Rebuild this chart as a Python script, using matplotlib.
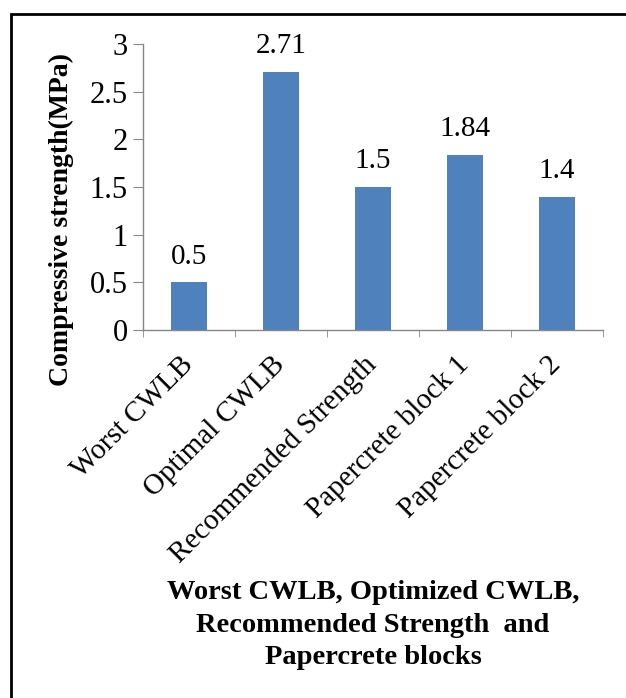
import matplotlib
matplotlib.use("Agg")
import matplotlib.pyplot as plt
from matplotlib.patches import Rectangle
from matplotlib.ticker import FixedLocator, FuncFormatter

categories = ["Worst CWLB", "Optimal CWLB", "Recommended Strength",
              "Papercrete block 1", "Papercrete block 2"]
values = [0.5, 2.71, 1.5, 1.84, 1.4]
value_labels = ["0.5", "2.71", "1.5", "1.84", "1.4"]
yticks = [0, 0.5, 1, 1.5, 2, 2.5, 3]

plt.rcParams['font.family'] = ['Liberation Serif', 'DejaVu Serif']

W, H = 626, 698
fig = plt.figure(figsize=(W/100, H/100), dpi=100)
ax = fig.add_axes([143/W, 1-330/H, (603-143)/W, (330-44)/H])

x = list(range(len(categories)))
ax.bar(x, values, width=0.4, color="#4F81BD")
ax.set_xlim(-0.5, len(categories)-0.5)
ax.set_ylim(0, 3)

gray = "#868686"
for s in ["top", "right"]:
    ax.spines[s].set_visible(False)
for s in ["left", "bottom"]:
    ax.spines[s].set_color(gray)
    ax.spines[s].set_linewidth(1.0)

ax.set_yticks(yticks)
ax.yaxis.set_major_formatter(FuncFormatter(lambda v, p: "%g" % v))
ax.tick_params(axis='y', direction='out', length=7, color=gray, labelsize=22, pad=4)

ax.set_xticks(x)
ax.set_xticklabels(categories, rotation=45, ha='right', va='center',
                   rotation_mode='anchor', fontsize=21)
ax.tick_params(axis='x', which='major', length=0, pad=22)
ax.xaxis.set_minor_locator(FixedLocator([i - 0.5 for i in range(len(categories)+1)]))
ax.tick_params(axis='x', which='minor', direction='out', length=5, color=gray)

for xi, v, lab in zip(x, values, value_labels):
    ax.annotate(lab, (xi, v), xytext=(0, 9), textcoords='offset points',
                ha='center', va='bottom', fontsize=21)

fig.text(61/W, 1-220/H, "Compressive strength(MPa)", rotation=90,
         ha='center', va='center', fontsize=20, fontweight='bold')
fig.text(373/W, 1-625/H,
         "Worst CWLB, Optimized CWLB,\nRecommended Strength  and\nPapercrete blocks",
         ha='center', va='center', fontsize=20.5, fontweight='bold',
         linespacing=1.4)

fig.patches.append(Rectangle((11/W, -0.1), 1.2, (1 - 14/H) + 0.1,
                             transform=fig.transFigure, fill=False,
                             edgecolor='black', linewidth=2, clip_on=False))

fig.savefig("out.png", dpi=100)
